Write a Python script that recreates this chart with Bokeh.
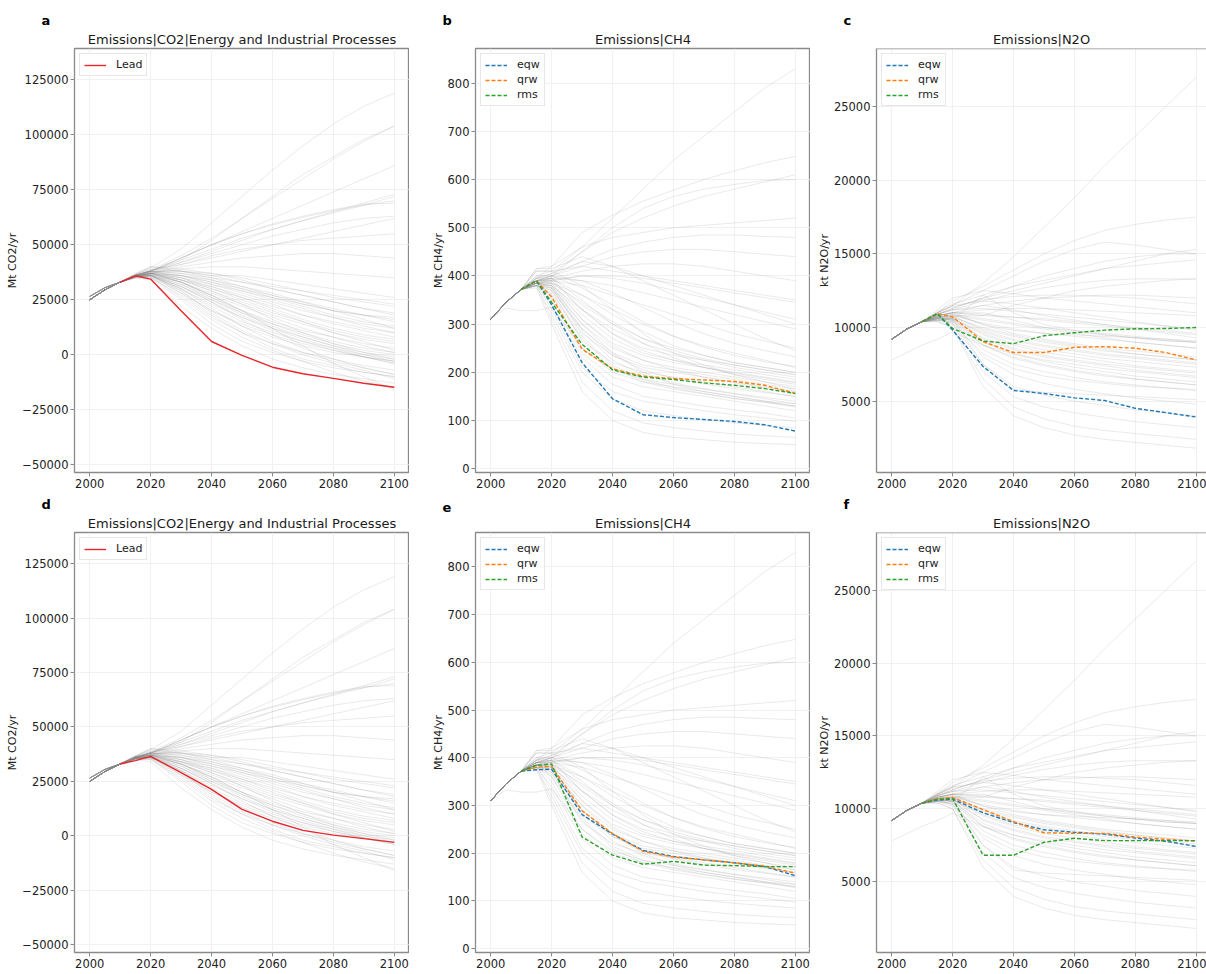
from bokeh.plotting import figure
from bokeh.models import Title, Range1d, Span
from bokeh.layouts import column, row
from bokeh.embed import file_html
from bokeh.resources import INLINE

FONT = "DejaVu Sans"

# ---------------- data ----------------
YEARS = [2000, 2005, 2010, 2015, 2020, 2030, 2040, 2050, 2060, 2070, 2080, 2090, 2100]
HL_YEARS = [2010, 2015, 2020, 2030, 2040, 2050, 2060, 2070, 2080, 2090, 2100]
X_TICKS = [2000, 2020, 2040, 2060, 2080, 2100]

CO2_TICKS = [-50000, -25000, 0, 25000, 50000, 75000, 100000, 125000]
CH4_TICKS = [0, 100, 200, 300, 400, 500, 600, 700, 800]
N2O_TICKS = [5000, 10000, 15000, 20000, 25000]

# background scenario ensemble (Mt CO2/yr)
co2_bg = [
    [25000, 29500, 33000, 36500, 39500, 48000, 60000, 72000, 84000, 95000, 105000, 113000, 119000],
    [25000, 29500, 33000, 36000, 38500, 45000, 53000, 62000, 71000, 80000, 89000, 97000, 104000],
    [26500, 30500, 33000, 36000, 38000, 44000, 50000, 56000, 62000, 68000, 74000, 80000, 86000],
    [25000, 29500, 33000, 36000, 38000, 44000, 50000, 55000, 59000, 62500, 65500, 68000, 70000],
    [25000, 29500, 33000, 36000, 38000, 44000, 50000, 55000, 59500, 63000, 66000, 68500, 69000],
    [26500, 30500, 33000, 36000, 38000, 43000, 48000, 53000, 57000, 61000, 64500, 68000, 72000],
    [25000, 29500, 33000, 35500, 37500, 42000, 46000, 50000, 54000, 57000, 60000, 62000, 63000],
    [25000, 29500, 33000, 35500, 37000, 41000, 45000, 48000, 50000, 52000, 53000, 54000, 55000],
    [26500, 30500, 33000, 35500, 37000, 40000, 42000, 44000, 45000, 46000, 46000, 45000, 44000],
    [25000, 29500, 33000, 35500, 37000, 39000, 40000, 40000, 39000, 38000, 37000, 36000, 35000],
    [25000, 29500, 33000, 35500, 38000, 37000, 35000, 33000, 31000, 29000, 27000, 25000, 23000],
    [26500, 30500, 33000, 35500, 37000, 36000, 33000, 30000, 27000, 24000, 21000, 18000, 15000],
    [25000, 29500, 33000, 35500, 37000, 34000, 30000, 26000, 22000, 18000, 15000, 12000, 10000],
    [25000, 29500, 33000, 35500, 36500, 33000, 28000, 23000, 18000, 14000, 10000, 7000, 5000],
    [26500, 30500, 33000, 35500, 36000, 31000, 25000, 19000, 14000, 10000, 6000, 3000, 1000],
    [25000, 29500, 33000, 35500, 36000, 30000, 22000, 15000, 10000, 6000, 3000, 0, -2000],
    [25000, 29500, 33000, 35000, 36000, 29000, 20000, 13000, 8000, 4000, 1000, -1000, -3000],
    [26500, 30500, 33000, 35000, 35000, 27000, 17000, 10000, 5000, 1000, -2000, -5000, -7000],
    [25000, 29500, 33000, 35000, 35000, 25000, 14000, 6000, 1000, -3000, -6000, -8000, -10000],
    [25000, 29500, 33000, 35000, 34000, 22000, 12000, 4000, -2000, -6000, -9000, -11000, -13000],
    [25000, 29500, 33000, 35500, 36000, 28000, 18000, 10000, 3000, -2000, -5000, -8000, -10000],
    [26500, 30500, 33000, 36000, 37000, 33000, 27000, 20000, 14000, 9000, 5000, 2000, 0],
    [25000, 29500, 33000, 36000, 37500, 34000, 29000, 24000, 19000, 15000, 11000, 8000, 6000],
    [25000, 29500, 33000, 36000, 38000, 36000, 32000, 28000, 24000, 20000, 17000, 14000, 12000],
    [26500, 30500, 33000, 36500, 39000, 38000, 35000, 31000, 27000, 23000, 20000, 18000, 16000],
    [25000, 29500, 33000, 36500, 40000, 39000, 37000, 34000, 30000, 27000, 24000, 21000, 19000],
    [25000, 29500, 33000, 35500, 36000, 30000, 23000, 17000, 12000, 8000, 4000, 1000, -1000],
    [26500, 30500, 33000, 35500, 36000, 32000, 26000, 20000, 15000, 11000, 8000, 5000, 3000],
    [25000, 29500, 33000, 36000, 37000, 34000, 31000, 27000, 23000, 18000, 14000, 11000, 8000],
    [25000, 29500, 33000, 35500, 36000, 30000, 21000, 13000, 6000, 1000, -3000, -6000, -9000],
    [26500, 30500, 33000, 36500, 38000, 38000, 37000, 35000, 32000, 29000, 26000, 24000, 22000],
    [25000, 29500, 33000, 36500, 38000, 42000, 47000, 52000, 57000, 61000, 65000, 69000, 73000],
    [25000, 29500, 33000, 37000, 40000, 38000, 36000, 36000, 34000, 32000, 30000, 28000, 26000],
    [25000, 29500, 33000, 36000, 38000, 43000, 52000, 62000, 72000, 82000, 90000, 98000, 104000],
    [26500, 30500, 33000, 35500, 36000, 33000, 27000, 20000, 12000, 4000, -4000, -10000, -16000],
    [25000, 29500, 33000, 36000, 37000, 36000, 34000, 31000, 28000, 24000, 20000, 16000, 12000],
    [25000, 29500, 33000, 35500, 35500, 26000, 16000, 8000, 2000, -3000, -8000, -12000, -15000],
    [25000, 29500, 33000, 36000, 37000, 35000, 31000, 26000, 21000, 16000, 12000, 9000, 7000],
    [26500, 30500, 33000, 35500, 36500, 31000, 24000, 17000, 11000, 6000, 2000, -1000, -4000],
    [25000, 29500, 33000, 36000, 38500, 41000, 44000, 47000, 50000, 53000, 56000, 59000, 62000],
    [25000, 29500, 33000, 36000, 37000, 33000, 27000, 22000, 17000, 12000, 8000, 4000, 1000],
    [26500, 30500, 33000, 35500, 36500, 32000, 25000, 18000, 12000, 7000, 3000, -1000, -4000],
    [25000, 29500, 33000, 36000, 38000, 35000, 30000, 25000, 20000, 15000, 10000, 6000, 2000],
    [25000, 29500, 33000, 35500, 37000, 33000, 26000, 19000, 13000, 8000, 4000, 0, -3000],
    [26500, 30500, 33000, 36000, 37500, 36000, 33000, 29000, 25000, 21000, 17000, 13000, 10000],
    [25000, 29500, 33000, 35500, 36000, 29000, 19000, 11000, 5000, 0, -4000, -7000, -11000],
    [25000, 29500, 33000, 36000, 38000, 37000, 34000, 30000, 26000, 22000, 18000, 15000, 13000],
    [26500, 30500, 33000, 35500, 36500, 34000, 29000, 23000, 16000, 10000, 5000, 1000, -2000],
    [25000, 29500, 33000, 36000, 37000, 35000, 32000, 29000, 26000, 23000, 20000, 18000, 17000],
    [25000, 29500, 33000, 35500, 35500, 28000, 20000, 14000, 9000, 5000, 2000, -1000, -3000],
    [26500, 30500, 33000, 36000, 38000, 38000, 36000, 33000, 30000, 27000, 24000, 21000, 18000],
    [25000, 29500, 33000, 35500, 36000, 31000, 24000, 16000, 9000, 3000, -2000, -6000, -9000],
]

# background scenario ensemble (Mt CH4/yr)
ch4_bg = [
    [310, 345, 372, 395, 420, 490, 526, 555, 578, 600, 618, 635, 648],
    [310, 345, 372, 400, 410, 460, 520, 580, 640, 690, 740, 790, 830],
    [310, 345, 372, 395, 405, 450, 490, 520, 545, 565, 580, 595, 610],
    [310, 345, 372, 390, 400, 430, 455, 470, 480, 485, 485, 482, 480],
    [310, 345, 372, 390, 400, 420, 440, 450, 455, 455, 450, 445, 440],
    [310, 345, 372, 385, 395, 410, 420, 425, 425, 420, 410, 400, 390],
    [310, 345, 372, 385, 390, 400, 400, 395, 385, 375, 365, 355, 345],
    [310, 345, 372, 390, 395, 390, 380, 365, 350, 335, 320, 305, 290],
    [310, 345, 372, 385, 390, 380, 360, 340, 320, 300, 280, 265, 250],
    [310, 345, 372, 385, 385, 360, 330, 300, 275, 255, 240, 225, 210],
    [310, 345, 372, 390, 390, 340, 300, 270, 250, 235, 220, 210, 200],
    [310, 345, 372, 385, 385, 320, 270, 240, 225, 215, 205, 195, 185],
    [310, 345, 372, 380, 380, 300, 250, 225, 210, 200, 190, 180, 170],
    [310, 345, 372, 380, 375, 280, 235, 210, 200, 190, 180, 170, 160],
    [310, 345, 372, 385, 370, 265, 220, 200, 190, 180, 170, 160, 150],
    [310, 345, 372, 390, 360, 250, 205, 185, 175, 165, 155, 145, 135],
    [310, 345, 372, 385, 350, 240, 190, 170, 160, 150, 140, 130, 120],
    [310, 345, 372, 380, 340, 230, 175, 150, 140, 130, 122, 115, 105],
    [310, 345, 372, 385, 330, 210, 160, 140, 130, 120, 112, 105, 98],
    [310, 345, 372, 380, 320, 200, 145, 120, 110, 102, 95, 90, 85],
    [310, 345, 372, 380, 310, 180, 120, 95, 85, 78, 72, 68, 65],
    [310, 345, 372, 375, 300, 160, 100, 75, 65, 60, 55, 52, 50],
    [310, 345, 372, 415, 415, 440, 420, 390, 360, 330, 300, 270, 245],
    [310, 345, 372, 410, 410, 380, 330, 280, 240, 215, 195, 180, 165],
    [310, 345, 372, 395, 395, 330, 280, 250, 235, 225, 215, 205, 195],
    [310, 345, 372, 400, 400, 450, 500, 540, 565, 580, 590, 598, 600],
    [310, 345, 372, 385, 380, 290, 240, 215, 205, 195, 185, 175, 165],
    [310, 345, 372, 390, 385, 310, 260, 235, 220, 210, 200, 190, 180],
    [310, 345, 372, 410, 410, 420, 410, 400, 390, 380, 370, 360, 350],
    [310, 345, 372, 415, 420, 460, 480, 490, 500, 505, 510, 515, 520],
    [310, 333, 328, 328, 335, 250, 200, 180, 170, 160, 150, 140, 130],
    [310, 345, 372, 390, 395, 350, 300, 260, 230, 210, 195, 185, 175],
    [310, 345, 372, 385, 375, 300, 240, 200, 175, 160, 150, 140, 135],
    [310, 345, 372, 395, 405, 430, 420, 400, 380, 360, 340, 320, 300],
    [310, 345, 372, 385, 380, 330, 290, 260, 240, 225, 210, 200, 190],
    [310, 345, 372, 380, 360, 270, 210, 180, 165, 155, 145, 138, 130],
    [310, 345, 372, 390, 390, 330, 280, 245, 225, 210, 198, 188, 178],
    [310, 345, 372, 385, 385, 345, 305, 270, 245, 228, 215, 205, 195],
    [310, 345, 372, 390, 395, 360, 320, 285, 255, 235, 220, 210, 200],
    [310, 345, 372, 385, 380, 310, 255, 225, 205, 190, 178, 168, 160],
    [310, 345, 372, 390, 400, 375, 340, 305, 275, 252, 235, 222, 212],
    [310, 345, 372, 380, 370, 290, 235, 205, 188, 176, 166, 158, 150],
    [310, 345, 372, 395, 400, 390, 365, 335, 305, 280, 260, 245, 232],
    [310, 345, 372, 385, 375, 285, 225, 195, 178, 166, 156, 148, 140],
    [310, 345, 372, 390, 392, 400, 395, 385, 370, 355, 340, 325, 310],
    [310, 345, 372, 380, 365, 275, 215, 185, 168, 156, 146, 138, 128],
]

# background scenario ensemble (kt N2O/yr)
n2o_bg = [
    [9200, 9900, 10400, 11000, 11800, 12800, 13900, 15000, 15900, 16600, 17000, 17300, 17500],
    [9200, 9900, 10400, 11000, 11500, 13000, 14800, 16800, 18800, 21000, 23000, 25000, 27000],
    [9200, 9900, 10400, 11000, 11500, 12500, 13500, 14500, 15300, 15800, 15600, 15300, 15000],
    [9200, 9900, 10400, 10900, 11300, 12000, 12800, 13500, 14000, 14500, 14800, 15000, 15000],
    [9200, 9900, 10400, 10900, 11200, 11800, 12300, 12700, 13000, 13200, 13300, 13300, 13300],
    [9200, 9900, 10400, 10800, 11000, 11500, 11800, 12000, 12100, 12200, 12200, 12100, 12000],
    [9200, 9900, 10400, 10800, 11000, 11200, 11300, 11300, 11200, 11100, 11000, 10900, 10800],
    [9200, 9900, 10400, 10700, 10800, 10800, 10700, 10600, 10400, 10200, 10000, 9800, 9600],
    [9200, 9900, 10400, 10700, 10800, 10500, 10200, 9900, 9600, 9300, 9000, 8800, 8600],
    [9200, 9900, 10400, 10700, 10700, 10000, 9500, 9100, 8800, 8500, 8200, 8000, 7800],
    [9200, 9900, 10400, 10600, 10600, 9500, 8800, 8300, 8000, 7700, 7400, 7200, 7000],
    [9200, 9900, 10400, 10600, 10500, 9000, 8200, 7700, 7300, 7000, 6700, 6500, 6300],
    [9200, 9900, 10400, 10600, 10500, 8500, 7500, 7000, 6600, 6300, 6100, 5900, 5700],
    [9200, 9900, 10400, 10500, 10400, 8000, 6800, 6200, 5800, 5500, 5200, 5000, 4800],
    [9200, 9900, 10400, 10500, 10300, 7500, 6000, 5400, 5000, 4700, 4400, 4200, 4000],
    [9200, 9900, 10400, 10500, 10200, 7000, 5300, 4600, 4200, 3900, 3600, 3400, 3200],
    [9200, 9900, 10400, 10400, 10000, 6500, 4600, 3800, 3300, 3000, 2800, 2600, 2400],
    [9200, 9900, 10400, 10400, 10000, 6000, 4000, 3200, 2700, 2400, 2200, 2000, 1800],
    [9200, 9900, 10400, 10800, 11000, 11000, 10500, 10000, 9700, 9500, 9300, 9100, 9000],
    [9200, 9900, 10400, 11200, 12000, 12500, 12300, 12000, 11800, 11600, 11400, 11200, 11000],
    [9200, 9900, 10400, 10700, 10900, 10200, 9800, 9600, 9500, 9400, 9300, 9200, 9100],
    [9200, 9900, 10400, 10700, 10800, 9800, 9200, 8800, 8500, 8200, 8000, 7800, 7600],
    [9200, 9900, 10400, 10900, 11200, 11500, 11200, 10800, 10500, 10200, 9900, 9600, 9300],
    [9200, 9900, 10400, 10600, 10700, 9200, 8500, 8000, 7700, 7400, 7100, 6900, 6700],
    [9200, 9900, 10400, 10600, 10600, 8800, 8000, 7500, 7100, 6800, 6500, 6300, 6100],
    [7800, 8300, 8800, 9200, 9700, 8800, 8200, 7800, 7500, 7200, 7000, 6800, 6600],
    [9200, 9900, 10400, 11100, 11600, 12200, 12800, 13200, 13600, 14000, 14200, 14400, 14600],
    [9200, 9900, 10400, 10500, 10600, 7500, 5800, 5600, 5500, 5400, 5300, 5200, 5100],
    [9200, 9900, 10400, 10700, 10500, 12200, 11000, 10200, 9800, 9500, 9300, 9100, 9000],
    [9200, 9900, 10400, 10800, 11000, 10800, 11500, 12000, 12500, 12800, 13000, 13200, 13300],
    [9200, 9900, 10400, 11000, 11500, 11800, 11600, 11300, 11000, 10700, 10400, 10100, 9800],
    [9200, 9900, 10400, 10600, 10300, 8200, 7200, 6700, 6400, 6200, 6000, 5900, 5800],
    [9200, 9900, 10400, 10800, 11000, 10200, 9600, 9200, 8900, 8600, 8400, 8200, 8000],
    [9200, 9900, 10400, 10900, 11300, 12000, 12500, 13000, 13500, 14000, 14500, 15000, 15300],
    [9200, 9900, 10400, 10700, 10800, 10300, 9900, 9600, 9400, 9200, 9000, 8800, 8600],
    [9200, 9900, 10400, 10800, 10900, 10600, 10300, 10000, 9800, 9600, 9400, 9200, 9000],
    [9200, 9900, 10400, 10600, 10600, 9700, 9100, 8700, 8400, 8100, 7900, 7700, 7500],
    [9200, 9900, 10400, 10700, 10700, 9900, 9400, 9000, 8700, 8400, 8200, 8000, 7800],
    [9200, 9900, 10400, 10600, 10500, 9300, 8600, 8100, 7800, 7500, 7300, 7100, 6900],
    [9200, 9900, 10400, 10800, 11000, 10900, 10700, 10500, 10300, 10100, 9900, 9700, 9500],
    [9200, 9900, 10400, 10500, 10400, 8800, 7900, 7400, 7000, 6700, 6500, 6300, 6100],
    [9200, 9900, 10400, 10900, 11200, 11300, 11100, 10900, 10700, 10500, 10300, 10100, 9900],
    [9200, 9900, 10400, 10700, 10600, 9600, 8900, 8500, 8200, 7900, 7700, 7500, 7300],
    [9200, 9900, 10400, 11000, 11400, 11900, 12100, 12200, 12200, 12100, 12000, 11800, 11600],
]

# highlighted pathways
lead_a = [33000, 35900, 34400, 20000, 6000, -300, -5700, -8700, -10800, -13000, -14800]
lead_d = [33000, 34500, 36500, 29000, 21300, 12100, 6700, 2500, 300, -1300, -3000]

ch4_eqw_b = [372, 390, 340, 220, 145, 112, 106, 102, 98, 91, 78]
ch4_qrw_b = [372, 390, 356, 248, 207, 192, 187, 184, 181, 173, 156]
ch4_rms_b = [372, 390, 345, 258, 205, 190, 185, 178, 173, 166, 156]

n2o_eqw_c = [10400, 10940, 9820, 7350, 5720, 5520, 5220, 5040, 4510, 4220, 3920]
n2o_qrw_c = [10400, 10940, 10720, 9040, 8300, 8300, 8650, 8700, 8590, 8300, 7800]
n2o_rms_c = [10400, 10940, 9930, 9080, 8900, 9440, 9640, 9820, 9910, 9930, 10000]

ch4_eqw_e = [372, 375, 376, 281, 240, 206, 193, 186, 180, 172, 153]
ch4_qrw_e = [372, 380, 382, 289, 241, 204, 192, 186, 180, 173, 158]
ch4_rms_e = [372, 384, 387, 234, 196, 177, 183, 175, 174, 172, 172]

n2o_eqw_f = [10400, 10600, 10670, 9730, 9060, 8570, 8390, 8270, 8000, 7780, 7420]
n2o_qrw_f = [10400, 10700, 10780, 9950, 9130, 8360, 8320, 8320, 8070, 7910, 7780]
n2o_rms_f = [10400, 10650, 10700, 6820, 6820, 7710, 7980, 7820, 7820, 7820, 7820]

C_EQW, C_QRW, C_RMS, C_LEAD = "#1f77b4", "#ff7f0e", "#2ca02c", "#e8262b"
FRAME = "#8a8a8a"


def fmt(v):
    return ("\u2212" + str(-v)) if v < 0 else str(v)


def panel(letter, title, ylabel, bg, yticks, yr, xend, width, height,
          left, top, lines, cut_right=False):
    p = figure(width=width, height=height,
               x_range=Range1d(1995, xend), y_range=Range1d(yr[0], yr[1]),
               output_backend="svg", toolbar_location=None,
               min_border_left=left, min_border_right=0,
               min_border_top=top, min_border_bottom=22,
               background_fill_color="white", border_fill_color="white")
    # panel letter (outermost title)
    p.title.text = letter
    p.title.align = "left"
    p.title.offset = -33
    p.title.text_font = FONT
    p.title.text_font_size = "13px"
    p.title.text_font_style = "bold"
    p.title.text_color = "black"
    p.title.standoff = 1
    # main title (closest to the frame)
    p.add_layout(Title(text=title, align="center", text_font=FONT,
                       text_font_size="13px", text_font_style="normal",
                       text_color="#1a1a1a", standoff=3), "above")

    for ax in (p.xaxis, p.yaxis):
        ax.axis_line_color = None
        ax.major_tick_line_color = FRAME
        ax.major_tick_out = 4
        ax.major_tick_in = 0
        ax.minor_tick_line_color = None
        ax.major_label_text_font = FONT
        ax.major_label_text_font_size = "11.5px"
        ax.major_label_text_color = "#222222"
        ax.major_label_standoff = 2
    if cut_right:
        # the frame is cut at the window edge: no right border
        p.outline_line_color = None
        for ax in (p.xaxis, p.yaxis):
            ax.axis_line_color = FRAME
            ax.axis_line_width = 1.3
        p.add_layout(Span(location=yr[1], dimension="width",
                          line_color=FRAME, line_width=1.3))
    else:
        p.outline_line_color = FRAME
        p.outline_line_width = 1.3
    p.xaxis.ticker = X_TICKS
    p.xaxis.major_label_overrides = {t: str(t) for t in X_TICKS}
    p.yaxis.ticker = yticks
    p.yaxis.major_label_overrides = {t: fmt(t) for t in yticks}
    p.yaxis.axis_label = ylabel
    p.yaxis.axis_label_text_font = FONT
    p.yaxis.axis_label_text_font_size = "11px"
    p.yaxis.axis_label_text_font_style = "normal"
    p.yaxis.axis_label_text_color = "#222222"
    p.yaxis.axis_label_standoff = 0
    p.grid.grid_line_color = "#eeeeee"
    p.grid.grid_line_width = 0.8

    p.multi_line(xs=[YEARS] * len(bg), ys=bg, line_color="#8c8c8c",
                 line_alpha=0.18, line_width=1)
    for ys, color, label, dash in lines:
        p.line(HL_YEARS, ys, line_color=color, line_width=1.4,
               line_dash=dash, legend_label=label)

    lg = p.legend[0]
    lg.location = "top_left"
    lg.margin = 5
    lg.padding = 4
    lg.spacing = 2
    lg.glyph_width = 22
    lg.glyph_height = 12
    lg.label_height = 13
    lg.label_standoff = 10
    lg.label_text_font = FONT
    lg.label_text_font_size = "11px"
    lg.label_text_color = "#222222"
    lg.border_line_color = "#d0d0d0"
    lg.border_line_width = 1
    lg.background_fill_alpha = 0.85
    return p


CO2_T = "Emissions|CO2|Energy and Industrial Processes"
CO2_R = (-53600, 139300)
CH4_R = (-8, 872)
N2O_R = (150, 28950)
XEND_FULL = 2105
XEND_CUT = 2103.4
DASH = "4 2"

H1, T1 = 494, 48
H2, T2 = 480, 38

pa = panel("a", CO2_T, "Mt CO2/yr", co2_bg, CO2_TICKS, CO2_R, XEND_FULL, 409, H1, 74, T1,
           [(lead_a, C_LEAD, "Lead", "solid")])
pb = panel("b", "Emissions|CH4", "Mt CH4/yr", ch4_bg, CH4_TICKS, CH4_R, XEND_FULL, 401, H1, 66, T1,
           [(ch4_eqw_b, C_EQW, "eqw", DASH), (ch4_qrw_b, C_QRW, "qrw", DASH),
            (ch4_rms_b, C_RMS, "rms", DASH)])
pc = panel("c", "Emissions|N2O", "kt N2O/yr", n2o_bg, N2O_TICKS, N2O_R, XEND_CUT, 396, H1, 66, T1,
           [(n2o_eqw_c, C_EQW, "eqw", DASH), (n2o_qrw_c, C_QRW, "qrw", DASH),
            (n2o_rms_c, C_RMS, "rms", DASH)], cut_right=True)
pd = panel("d", CO2_T, "Mt CO2/yr", co2_bg, CO2_TICKS, CO2_R, XEND_FULL, 409, H2, 74, T2,
           [(lead_d, C_LEAD, "Lead", "solid")])
pe = panel("e", "Emissions|CH4", "Mt CH4/yr", ch4_bg, CH4_TICKS, CH4_R, XEND_FULL, 401, H2, 66, T2,
           [(ch4_eqw_e, C_EQW, "eqw", DASH), (ch4_qrw_e, C_QRW, "qrw", DASH),
            (ch4_rms_e, C_RMS, "rms", DASH)])
pf = panel("f", "Emissions|N2O", "kt N2O/yr", n2o_bg, N2O_TICKS, N2O_R, XEND_CUT, 396, H2, 66, T2,
           [(n2o_eqw_f, C_EQW, "eqw", DASH), (n2o_qrw_f, C_QRW, "qrw", DASH),
            (n2o_rms_f, C_RMS, "rms", DASH)], cut_right=True)

layout = column(row(pa, pb, pc, spacing=0), row(pd, pe, pf, spacing=0), spacing=0)

open("out.html", "w").write(file_html(layout, INLINE))
